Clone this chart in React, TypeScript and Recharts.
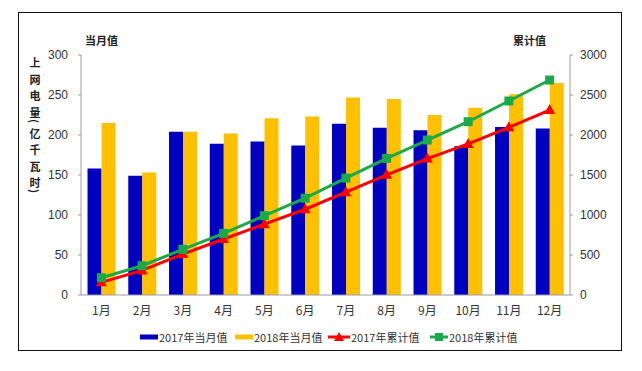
import React from 'react';
import { ComposedChart, Bar, Line, XAxis, YAxis, Legend } from 'recharts';

const months = ['1月', '2月', '3月', '4月', '5月', '6月', '7月', '8月', '9月', '10月', '11月', '12月'];
const monthly2017 = [158, 149, 204, 189, 192, 187, 214, 209, 206, 186, 210, 208];
const monthly2018 = [215, 153, 204, 202, 221, 223, 247, 245, 225, 234, 251, 265];
const cum2017 = [158, 307, 511, 700, 885, 1072, 1285, 1502, 1705, 1888, 2096, 2312];
const cum2018 = [216, 366, 571, 771, 991, 1210, 1462, 1708, 1937, 2166, 2425, 2687];
const leftTicks = [0, 50, 100, 150, 200, 250, 300];
const rightTicks = [0, 500, 1000, 1500, 2000, 2500, 3000];
const seriesNames = ['2017年当月值', '2018年当月值', '2017年累计值', '2018年累计值'];
const yLabelChars = ['上', '网', '电', '量', '(', '亿', '千', '瓦', '时', ')'];

const data = months.map((m, i) => ({
  month: m,
  m17: monthly2017[i],
  m18: monthly2018[i],
  c17: cum2017[i],
  c18: cum2018[i],
}));

const BLUE = '#0000C0';
const YELLOW = '#FFC000';
const RED = '#FF0000';
const GREEN = '#1BAA4A';
const AXIS = '#9A9AAA';
const FONT = '"Liberation Sans", Arial, sans-serif';
const CJK = '"Noto Sans CJK SC", sans-serif';

const Triangle = (props: any) => {
  const { cx, cy } = props;
  if (cx == null || cy == null) return null;
  return <polygon points={`${cx},${cy - 6} ${cx - 5.5},${cy + 4} ${cx + 5.5},${cy + 4}`} fill={RED} />;
};
const Square = (props: any) => {
  const { cx, cy } = props;
  if (cx == null || cy == null) return null;
  return <rect x={cx - 4.5} y={cy - 4.5} width={9} height={9} fill={GREEN} />;
};

const LeftLabel = (props: any) => {
  const vb = props.viewBox || { x: 41, y: 55, width: 40, height: 240 };
  const yOffsets = [7, 23.5, 40, 56.5, 66, 77.5, 94, 110.5, 127, 136];
  const cx = vb.x - 6;
  return (
    <g>
      <text x={vb.x + vb.width + 4} y={vb.y - 10} fontSize={11} fontWeight="bold" fontFamily={CJK} fill="#222">
        当月值
      </text>
      {yLabelChars.map((c, i) => {
        const cy = vb.y + yOffsets[i];
        const isParen = c === '(' || c === ')';
        return (
          <text
            key={i}
            x={cx}
            y={cy}
            fontSize={11}
            fontWeight="bold"
            fontFamily={CJK}
            fill="#222"
            textAnchor="middle"
            dominantBaseline="central"
            transform={isParen ? `rotate(90, ${cx}, ${cy})` : undefined}
          >
            {c}
          </text>
        );
      })}
    </g>
  );
};

const RightLabel = (props: any) => {
  const vb = props.viewBox || { x: 570, y: 55, width: 50, height: 240 };
  return (
    <text x={vb.x - 57} y={vb.y - 10} fontSize={11} fontWeight="bold" fontFamily={CJK} fill="#222">
      累计值
    </text>
  );
};

const LegendContent = () => {
  const icon = (i: number) => {
    if (i === 0) return <svg width={18} height={8}><rect x={0} y={1.5} width={18} height={5} fill={BLUE} /></svg>;
    if (i === 1) return <svg width={18} height={8}><rect x={0} y={1.5} width={18} height={5} fill={YELLOW} /></svg>;
    if (i === 2)
      return (
        <svg width={22} height={10}>
          <line x1={0} y1={5} x2={22} y2={5} stroke={RED} strokeWidth={3} />
          <polygon points="11,0 6,9 16,9" fill={RED} />
        </svg>
      );
    return (
      <svg width={18} height={10}>
        <line x1={0} y1={5} x2={18} y2={5} stroke={GREEN} strokeWidth={3} />
        <rect x={5} y={1} width={8} height={8} fill={GREEN} />
      </svg>
    );
  };
  const lefts = [140, 235, 328, 430];
  return (
    <div style={{ position: 'relative', width: 642, height: 16 }}>
      {seriesNames.map((n, i) => (
        <div
          key={n}
          style={{
            position: 'absolute',
            left: lefts[i],
            top: 0,
            display: 'flex',
            alignItems: 'center',
            fontSize: 11,
            fontFamily: CJK,
            color: '#333',
            whiteSpace: 'nowrap',
            lineHeight: '16px',
          }}
        >
          {icon(i)}
          <span style={{ marginLeft: 1 }}>{n}</span>
        </div>
      ))}
    </div>
  );
};

export default function App() {
  return (
    <div style={{ position: 'absolute', left: 0, top: 0, width: 642, height: 371, background: '#fff' }}>
      <div
        style={{
          position: 'absolute',
          left: 18,
          top: 12,
          width: 602,
          height: 337,
          border: '1.5px solid #111',
        }}
      />
      <div style={{ position: 'absolute', left: 0, top: 0 }}>
        <ComposedChart
          width={642}
          height={371}
          data={data}
          margin={{ top: 55, right: 22, left: 41, bottom: 46 }}
          barCategoryGap="16%"
          barGap={0}
        >
          <XAxis
            dataKey="month"
            tickLine={false}
            axisLine={{ stroke: AXIS }}
            tick={{ fontSize: 12, fontFamily: CJK, fill: '#333' }}
            tickMargin={5}
            height={30}
            interval={0}
          />
          <YAxis
            yAxisId="left"
            domain={[0, 300]}
            ticks={leftTicks}
            width={40}
            tickSize={3}
            tickMargin={10}
            axisLine={{ stroke: AXIS }}
            tickLine={{ stroke: AXIS }}
            tick={{ fontSize: 12, fontFamily: FONT, fill: '#333' }}
            label={<LeftLabel />}
          />
          <YAxis
            yAxisId="right"
            orientation="right"
            domain={[0, 3000]}
            ticks={rightTicks}
            width={50}
            tickSize={3}
            tickMargin={7}
            axisLine={{ stroke: AXIS }}
            tickLine={{ stroke: AXIS }}
            tick={{ fontSize: 12, fontFamily: FONT, fill: '#333' }}
            label={<RightLabel />}
          />
          <Bar yAxisId="left" dataKey="m17" name={seriesNames[0]} fill={BLUE} isAnimationActive={false} />
          <Bar yAxisId="left" dataKey="m18" name={seriesNames[1]} fill={YELLOW} isAnimationActive={false} />
          <Line
            yAxisId="right"
            dataKey="c17"
            name={seriesNames[2]}
            stroke={RED}
            strokeWidth={3}
            dot={<Triangle />}
            activeDot={false}
            isAnimationActive={false}
          />
          <Line
            yAxisId="right"
            dataKey="c18"
            name={seriesNames[3]}
            stroke={GREEN}
            strokeWidth={3}
            dot={<Square />}
            activeDot={false}
            isAnimationActive={false}
          />
          <Legend
            layout="horizontal"
            verticalAlign="middle"
            align="center"
            content={<LegendContent />}
            wrapperStyle={{ top: 329, left: 0, width: 642, height: 16 }}
          />
        </ComposedChart>
      </div>
    </div>
  );
}
